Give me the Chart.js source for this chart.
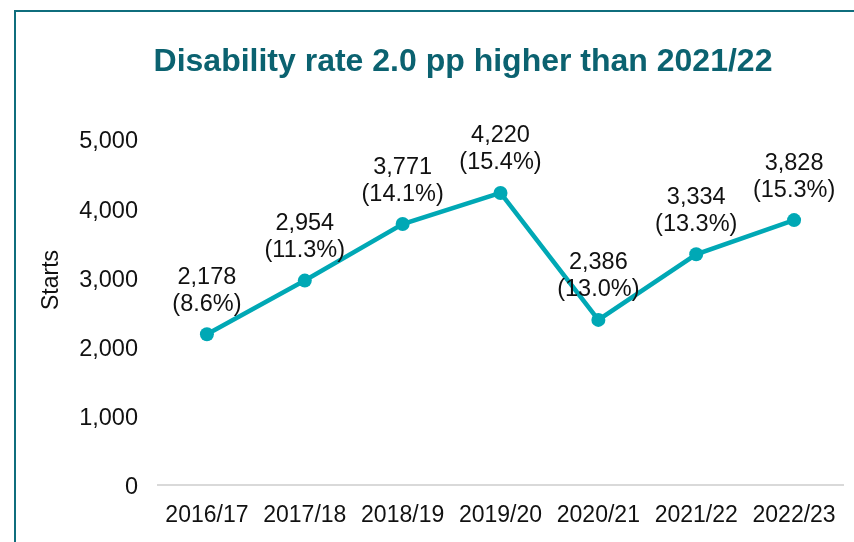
<!DOCTYPE html>
<html>
<head>
<meta charset="utf-8">
<script src="https://cdn.jsdelivr.net/npm/chart.js@4/dist/chart.umd.min.js"></script>
<style>
  html, body { margin: 0; padding: 0; background: #fff; }
  #wrap { position: relative; width: 854px; height: 542px; overflow: hidden; }
  #frame {
    position: absolute; left: 14px; top: 10px; width: 900px; height: 600px;
    border-left: 2px solid #0f6e7d; border-top: 2px solid #0f6e7d;
  }
  canvas { position: absolute; left: 0; top: 0; }
</style>
</head>
<body>
<div id="wrap">
  <div id="frame"></div>
  <canvas id="chart" width="854" height="542"></canvas>
</div>
<script>
// Disability starts per academic year, with the share of all starts in brackets
const years = ['2016/17', '2017/18', '2018/19', '2019/20', '2020/21', '2021/22', '2022/23'];
const starts = [2178, 2954, 3771, 4220, 2386, 3334, 3828];
const rates = [8.6, 11.3, 14.1, 15.4, 13.0, 13.3, 15.3];
const yTicks = [0, 1000, 2000, 3000, 4000, 5000];

const FONT = "'Liberation Sans', Arial, sans-serif";
const LINE = '#00a8b5';
const TEAL = '#0b6270';

// Title, rotated axis caption and the two-line point labels
const annotations = {
  id: 'annotations',
  afterDatasetsDraw(chart) {
    const ctx = chart.ctx;
    ctx.save();
    ctx.fillStyle = TEAL;
    ctx.font = 'bold 32px ' + FONT;
    ctx.textAlign = 'center';
    ctx.textBaseline = 'alphabetic';
    ctx.fillText('Disability rate 2.0 pp higher than 2021/22', 463, 71);

    ctx.fillStyle = '#111';
    ctx.font = '23px ' + FONT;
    ctx.textBaseline = 'middle';
    ctx.save();
    ctx.translate(52, 280);
    ctx.rotate(-Math.PI / 2);
    ctx.fillText('Starts', 0, 0);
    ctx.restore();

    ctx.font = '23.5px ' + FONT;
    const meta = chart.getDatasetMeta(0);
    meta.data.forEach((pt, i) => {
      ctx.fillText(starts[i].toLocaleString('en-GB'), pt.x, pt.y - 57);
      ctx.fillText('(' + rates[i].toFixed(1) + '%)', pt.x, pt.y - 30);
    });
    ctx.restore();
  }
};

new Chart(document.getElementById('chart'), {
  type: 'line',
  data: {
    labels: years,
    datasets: [{
      data: starts,
      borderColor: LINE,
      backgroundColor: LINE,
      borderWidth: 4.5,
      pointRadius: 7,
      pointBorderWidth: 0,
      pointBackgroundColor: LINE,
      tension: 0,
    }],
  },
  options: {
    responsive: false,
    animation: false,
    layout: { padding: { top: 139, right: 11, left: 0, bottom: 0 } },
    plugins: {
      legend: { display: false },
      tooltip: { enabled: false },
    },
    scales: {
      x: {
        offset: true,
        grid: { display: false },
        border: { display: true, color: '#d9d9d9', width: 2 },
        ticks: { color: '#111', font: { family: FONT, size: 23 }, padding: 9, maxRotation: 0 },
        afterFit: (scale) => { scale.height = 57; },
      },
      y: {
        min: 0,
        max: 5000,
        grid: { display: false },
        border: { display: false },
        afterBuildTicks: (scale) => { scale.ticks = yTicks.map(v => ({ value: v })); },
        ticks: {
          color: '#111',
          font: { family: FONT, size: 23.5 },
          padding: 12,
          labelOffset: 3,
          callback: (v) => v.toLocaleString('en-GB'),
        },
        afterFit: (scale) => { scale.width = 158; },
      },
    },
  },
  plugins: [annotations],
});
</script>
</body>
</html>
